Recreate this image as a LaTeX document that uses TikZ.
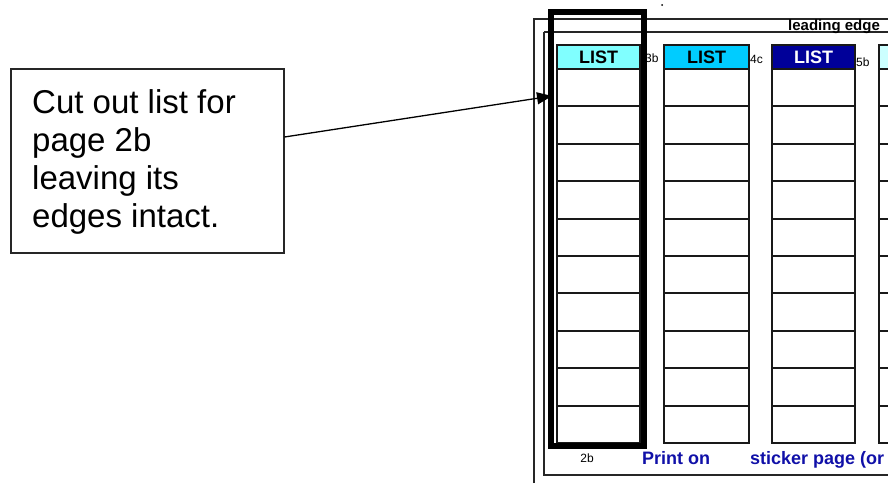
\documentclass[tikz,border=0pt]{standalone}
\usepackage{fontspec}
\setmainfont{Liberation Sans}
\usetikzlibrary{arrows.meta}
\definecolor{hdrA}{HTML}{80FFFF}
\definecolor{hdrB}{HTML}{00CCFF}
\definecolor{hdrC}{HTML}{000099}
\definecolor{hdrD}{HTML}{CCFFFF}
\definecolor{txtblue}{HTML}{1010A8}
\tikzset{
  frame/.style={draw=black!85, line width=1.6pt},
  hdr/.style={draw=black!90, line width=2pt, minimum width=#1, minimum height=24pt, inner sep=0pt, anchor=north west, font=\fontsize{18}{18}\selectfont\bfseries},
  cell/.style={draw=black!90, line width=2pt, minimum width=#1, minimum height=37.4pt, inner sep=0pt, anchor=north west},
  tag/.style={font=\fontsize{12}{12}\selectfont, inner sep=0pt},
  callout/.style={draw=black!85, line width=1.5pt, anchor=north west, inner sep=0pt, minimum width=273pt, minimum height=184pt},
  cutbox/.style={draw=black, line width=6pt},
  bluetxt/.style={text=txtblue, font=\fontsize{18}{18}\selectfont\bfseries, inner sep=0pt, anchor=base west}
}
\begin{document}
\begin{tikzpicture}[x=1pt,y=-1pt]
\useasboundingbox (0,0) rectangle (888,483);
\begin{scope}
\clip (0,0) rectangle (888,483);
% frames
\draw[frame] (534,483) -- (534,19) -- (900,19);
\draw[frame] (544,32) -- (544,475) -- (900,475);
\draw[frame] (544,32) -- (900,32);
\node[font=\fontsize{15}{15}\selectfont\bfseries, anchor=north west, inner sep=0pt] (lead) at (788,19.5) {leading edge};
\fill (662,5) circle (1pt);
% lists
\foreach \c/\x/\w/\col/\tc/\lab in {1/556/83/hdrA/black/LIST, 2/663/85/hdrB/black/LIST, 3/771/83/hdrC/white/LIST, 4/878/83/hdrD/black/{}}{
  \node[hdr=\w, fill=\col, text=\tc] (h\c) at (\x,44) {\lab};
  \foreach \r in {0,...,9}{
    \pgfmathsetmacro{\yy}{68+37.4*\r}
    \node[cell=\w] (c\c r\r) at (\x,\yy) {};
  }
}
\node[tag, anchor=west] (t3b) at (645,58) {3b};
\node[tag, anchor=west] (t4c) at (750,59) {4c};
\node[tag, anchor=west] (t5b) at (856,62) {5b};
\node[tag] (t2b) at (587,458) {2b};
\node[bluetxt] (print) at (642,464) {Print on};
\node[bluetxt] (sticker) at (750,464) {sticker page (or};
% cut box
\draw[cutbox] (551,12) rectangle (644,446);
\coordinate (target) at (552,96);
% callout
\node[callout] (call) at (10,68) {};
\node[anchor=base west, inner sep=0pt] (calltext) at (32,113) {\parbox[t]{240pt}{\raggedright\fontsize{33}{38}\selectfont Cut out list for\\ page 2b\\ leaving its\\ edges intact.}};
\draw[line width=1.3pt, -{Triangle[length=15pt,width=12pt]}] (call.east |- 0,137) -- (target);
\end{scope}
\end{tikzpicture}
\end{document}
